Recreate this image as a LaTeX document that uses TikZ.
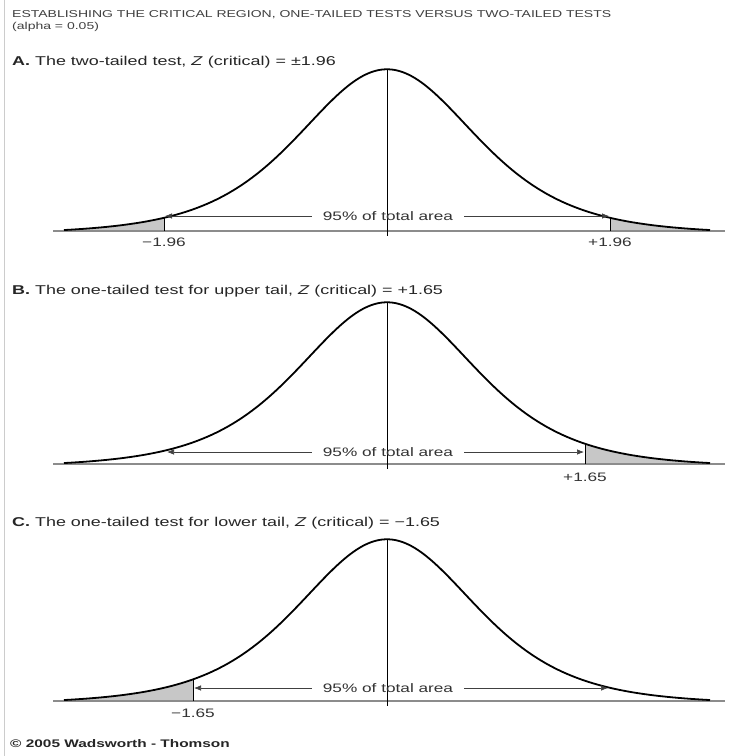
\documentclass[tikz,border=0pt]{standalone}
\usepackage{fontspec}
\setmainfont{Liberation Sans}[FakeStretch=1.4]
\usetikzlibrary{arrows.meta}
\begin{document}
\begin{tikzpicture}[x=1pt,y=-1pt,
  declare function={f(\t)=165*((1+(\t/200)^2)^(-2.85)-0.02);},
  curve/.style={line width=1.8pt, black},
  base/.style={line width=1.5pt, black!45},
  tail/.style={fill=black!22},
  crit/.style={line width=0.9pt, black},
  mid/.style={line width=0.8pt, black},
  arr/.style={-{Latex[length=7pt,width=5.5pt]}, line width=0.7pt, black!75},
  ttl/.style={font=\fontsize{10}{12}\selectfont, text=black!75, inner sep=0pt, anchor=west},
  hdr/.style={font=\fontsize{12.8}{15}\selectfont, text=black!85, inner sep=0pt, anchor=west},
  num/.style={font=\fontsize{12.3}{14}\selectfont, text=black!80, inner sep=0pt},
  pct/.style={font=\fontsize{12.3}{14}\selectfont, text=black!80, inner ysep=0pt, inner xsep=11pt},
  cpy/.style={font=\fontsize{11}{13}\selectfont\bfseries, text=black!85, inner sep=0pt, anchor=west}]
\useasboundingbox (0,0) rectangle (729,756);
\fill[white] (0,0) rectangle (729,756);
\draw[black!20, line width=0.8pt] (4,0) -- (4,756);

% titles
\node[ttl] (title) at (12,15) {ESTABLISHING THE CRITICAL REGION, ONE-TAILED TESTS VERSUS TWO-TAILED TESTS};
\node[ttl] (alpha) at (12,27) {(alpha = 0.05)};

% ---------- Panel A ----------
\node[hdr] (hA) at (12,62) {\textbf{A.} The two-tailed test, \textit{Z} (critical) = ±1.96};
\fill[tail] (64,231) -- plot[domain=-323:-223,samples=40] ({387+\x},{231-f(\x)}) -- (164,231) -- cycle;
\fill[tail] (610,231) -- plot[domain=223:323,samples=40] ({387+\x},{231-f(\x)}) -- cycle;
\draw[base] (53,231) -- (725,231);
\draw[curve] plot[domain=-323:323,samples=200] ({387+\x},{231-f(\x)});
\coordinate (Atop) at (387,{231-f(0)});
\coordinate (Abot) at (387,236);
\draw[mid] (Atop) -- (Abot);
\coordinate (AL0) at (164,231);
\coordinate (AL1) at (164,{231-f(-223)});
\coordinate (AR0) at (610,231);
\coordinate (AR1) at (610,{231-f(223)});
\draw[crit] (AL0) -- (AL1);
\draw[crit] (AR0) -- (AR1);
\node[num] (Aml) at (164,242) {−1.96};
\node[num] (Amr) at (610,242) {+1.96};
\node[pct] (Apct) at (388,216) {95\% of total area};
\coordinate (Aal) at (165,216);
\coordinate (Aar) at (609,216);
\draw[arr] (Apct.west) -- (Aal);
\draw[arr] (Apct.east) -- (Aar);

% ---------- Panel B ----------
\node[hdr] (hB) at (12,291) {\textbf{B.} The one-tailed test for upper tail, \textit{Z} (critical) = +1.65};
\fill[tail] (585,464) -- plot[domain=198:323,samples=40] ({387+\x},{464-f(\x)}) -- cycle;
\draw[base] (53,464) -- (725,464);
\draw[curve] plot[domain=-323:323,samples=200] ({387+\x},{464-f(\x)});
\coordinate (Btop) at (387,{464-f(0)});
\coordinate (Bbot) at (387,469);
\draw[mid] (Btop) -- (Bbot);
\coordinate (BR0) at (585,464);
\coordinate (BR1) at (585,{464-f(198)});
\draw[crit] (BR0) -- (BR1);
\node[num] (Bmr) at (585,477) {+1.65};
\node[pct] (Bpct) at (388,452) {95\% of total area};
\coordinate (Bal) at (167,452);
\coordinate (Bar) at (584,452);
\draw[arr] (Bpct.west) -- (Bal);
\draw[arr] (Bpct.east) -- (Bar);

% ---------- Panel C ----------
\node[hdr] (hC) at (12,523) {\textbf{C.} The one-tailed test for lower tail, \textit{Z} (critical) = −1.65};
\fill[tail] (64,701) -- plot[domain=-323:-194,samples=40] ({387+\x},{701-f(\x)}) -- (193,701) -- cycle;
\draw[base] (53,701) -- (725,701);
\draw[curve] plot[domain=-323:323,samples=200] ({387+\x},{701-f(\x)});
\coordinate (Ctop) at (387,{701-f(0)});
\coordinate (Cbot) at (387,706);
\draw[mid] (Ctop) -- (Cbot);
\coordinate (CL0) at (193,701);
\coordinate (CL1) at (193,{701-f(-194)});
\draw[crit] (CL0) -- (CL1);
\node[num] (Cml) at (193,713) {−1.65};
\node[pct] (Cpct) at (388,688) {95\% of total area};
\coordinate (Cal) at (194,688);
\coordinate (Car) at (608,688);
\draw[arr] (Cpct.west) -- (Cal);
\draw[arr] (Cpct.east) -- (Car);

% copyright
\node[cpy] (copy) at (10,744) {© 2005 Wadsworth - Thomson};
\end{tikzpicture}
\end{document}
